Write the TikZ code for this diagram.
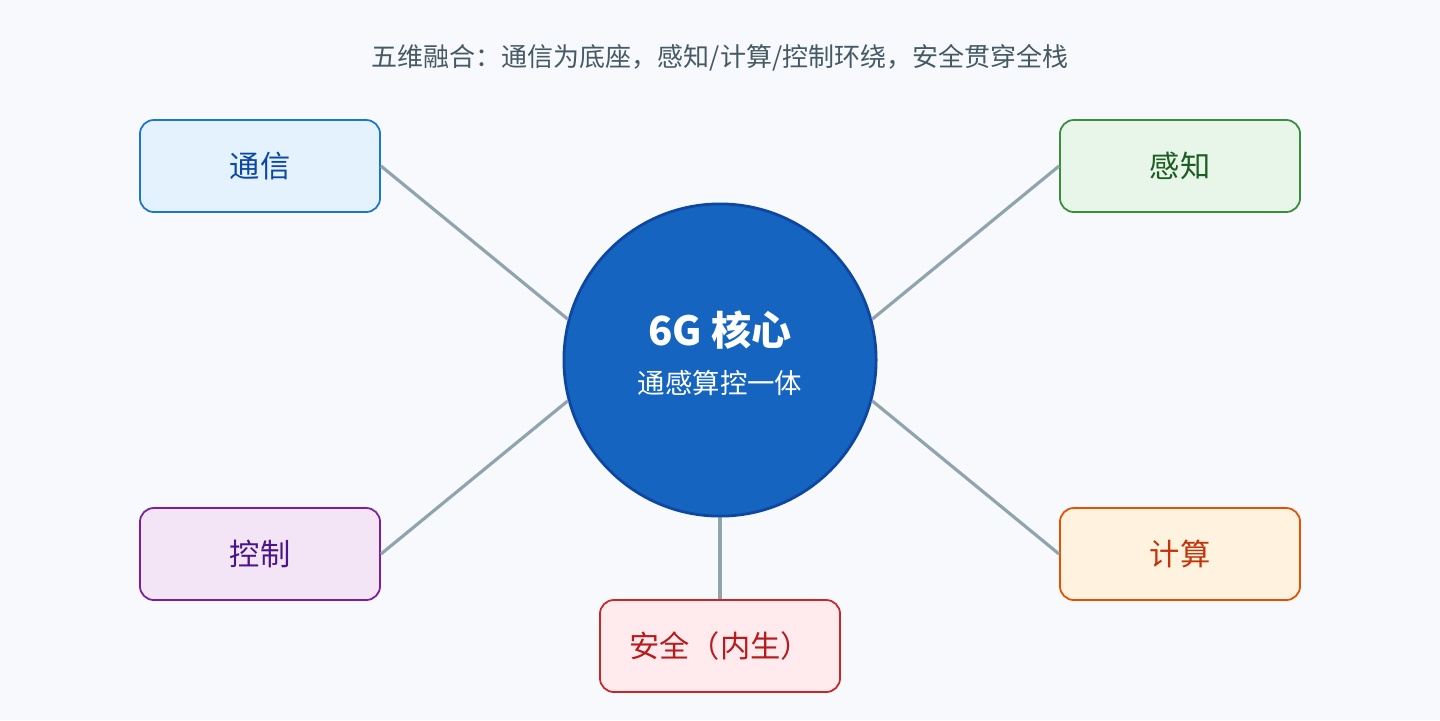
\documentclass[tikz,border=0pt]{standalone}
\usepackage{fontspec}
\setmainfont{Noto Sans CJK SC}
\usepackage{tikz}
\definecolor{bgcol}{HTML}{F7F9FC}
\definecolor{titlecol}{HTML}{455A64}
\definecolor{linkcol}{HTML}{90A4AE}
\definecolor{corefill}{HTML}{1565C0}
\definecolor{coredraw}{HTML}{0D47A1}
\definecolor{commfill}{HTML}{E3F2FD}\definecolor{commdraw}{HTML}{1976D2}
\definecolor{sensefill}{HTML}{E8F5E9}\definecolor{sensedraw}{HTML}{388E3C}\definecolor{sensetext}{HTML}{1B5E20}
\definecolor{ctrlfill}{HTML}{F3E5F5}\definecolor{ctrldraw}{HTML}{7B1FA2}\definecolor{ctrltext}{HTML}{4A148C}
\definecolor{compfill}{HTML}{FFF3E0}\definecolor{compdraw}{HTML}{E65100}\definecolor{comptext}{HTML}{BF360C}
\definecolor{secfill}{HTML}{FFEBEE}\definecolor{secdraw}{HTML}{C62828}\definecolor{sectext}{HTML}{B71C1C}
\begin{document}
\begin{tikzpicture}[x=0.01cm,y=-0.01cm]
  \tikzstyle{facet}=[rectangle,rounded corners=1.4mm,line width=0.5pt,
                     minimum width=2.4cm,minimum height=0.92cm,font=\fontsize{8.6pt}{10pt}\selectfont]
  \tikzstyle{link}=[draw=linkcol,line width=0.9pt]
  \tikzstyle{core}=[circle,fill=corefill,draw=coredraw,line width=0.8pt,minimum size=3.12cm]

  \fill [bgcol] (0,0) rectangle (1440,720);
  \node [text=titlecol,font=\fontsize{7.4pt}{8pt}\selectfont] (title) at (720,58)
    {五维融合：通信为底座，感知/计算/控制环绕，安全贯穿全栈};

  \node [core] (hub) at (720,360) {};
  \node [text=white,font=\fontsize{11.4pt}{13pt}\selectfont\bfseries] (hubtop) at (720,330) {6G 核心};
  \node [text=white,font=\fontsize{7.8pt}{9pt}\selectfont] (hubsub) at (720,383) {通感算控一体};

  \node [facet,fill=commfill,draw=commdraw,text=coredraw] (comm) at (260,166) {通信};
  \node [facet,fill=sensefill,draw=sensedraw,text=sensetext] (sense) at (1180,166) {感知};
  \node [facet,fill=ctrlfill,draw=ctrldraw,text=ctrltext] (ctrl) at (260,554) {控制};
  \node [facet,fill=compfill,draw=compdraw,text=comptext] (comp) at (1180,554) {计算};
  \node [facet,fill=secfill,draw=secdraw,text=sectext] (sec) at (720,646) {安全（内生）};

  \draw [link] (hub.165) -- (comm.east);
  \draw [link] (hub.15) -- (sense.west);
  \draw [link] (hub.195) -- (ctrl.east);
  \draw [link] (hub.-15) -- (comp.west);
  \draw [link] (hub.south) -- (sec.north);
\end{tikzpicture}
\end{document}
